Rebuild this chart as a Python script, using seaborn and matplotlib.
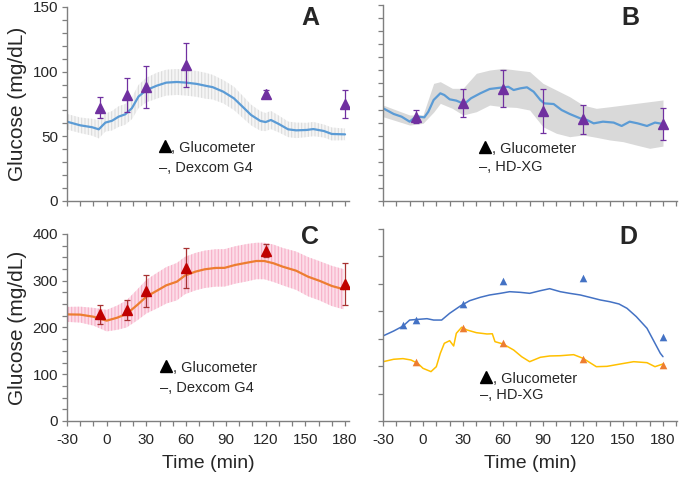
import numpy as np
import pandas as pd
import seaborn as sns
import matplotlib.pyplot as plt
from matplotlib.ticker import MultipleLocator

# Panel A: Dexcom G4 vs glucometer
A_t = [-30, -20, -11, -6, -1, 4, 9, 14, 19, 24, 30, 38, 45, 53, 60, 68, 75, 80, 88, 96,
       103, 109, 116, 120, 124, 130, 137, 143, 151, 156, 164, 170, 180]
A_cgm = [61.3, 58.5, 57, 55.4, 60.6, 62, 65.2, 67, 71.7, 80.7, 85.8, 89.2, 91.5, 92, 91.5,
         90.5, 89, 88, 84.5, 79.4, 72.5, 66.5, 61.9, 61, 62.6, 59.5, 55.4, 54.6, 54.9, 55.6,
         54.1, 51.8, 51.5]
A_sd = [6, 6, 6.5, 7, 7, 7.5, 8, 8, 8.5, 9, 9.5, 10, 10, 10, 10, 10, 10, 9.5, 9, 9,
        8.5, 8, 7.5, 7, 7, 6.5, 6, 6, 5.5, 5.5, 5, 5, 4.5]
A_meter_t = [-5, 15, 30, 60, 120, 180]
A_meter = [72, 82, 88, 105, 83, 75]
A_meter_err = [8, 13, 16, 17, 3, 10.5]

# Panel B: HD-XG vs glucometer
B_t = [-30, -22, -16, -10, -7, -3, 1, 4, 8, 13, 16, 20, 25, 31, 36, 43, 50, 58, 64, 68,
       73, 78, 83, 88, 91, 98, 104, 110, 118, 123, 128, 135, 143, 149, 155, 161, 168, 174, 180]
B_xg = [71, 66.6, 64.5, 60.7, 63.2, 64.5, 64, 68.3, 77.3, 82.4, 81.1, 77.8, 76.8, 74.2, 78.6,
        82.4, 85.7, 86.7, 87.4, 84.9, 86.2, 87, 83.6, 77.3, 74.7, 74.2, 69.6, 66.6, 63.2, 62,
        59.4, 60.7, 60, 57.4, 60.7, 59.4, 57.4, 60, 58.9]
B_band_t = [-30, -10, 0, 8, 13, 22, 30, 40, 50, 60, 70, 80, 90, 100, 110, 120, 130, 140,
            150, 160, 170, 180]
B_upper = [73.4, 65.8, 65.8, 90, 91.3, 86.2, 86.2, 97.7, 100.2, 101.5, 100.2, 99, 90, 84.9,
           79.8, 73.4, 70.9, 72.1, 73.4, 74.7, 76, 77.3]
B_lower = [64.5, 58.1, 59.4, 68, 74.7, 70.9, 65.8, 68.3, 73.4, 72.1, 71.6, 69.6, 56.8, 51.8,
           49.2, 50.5, 48.7, 46.7, 45.4, 42.8, 40.3, 42]
B_meter_t = [-5, 30, 60, 90, 120, 180]
B_meter = [64.5, 75, 86, 69, 62.5, 59]
B_meter_err = [5, 10.5, 14, 17, 11, 12]

# Panel C: Dexcom G4 vs glucometer (high range)
C_t = [-30, -20, -10, 0, 8, 15, 23, 30, 38, 45, 53, 59, 67, 74, 82, 89, 97, 106, 113, 119,
       126, 133, 143, 152, 161, 170, 179]
C_cgm = [228, 227.5, 223, 214.6, 221, 229, 248, 266, 278.8, 290.2, 298, 310.9, 319.4, 324.4,
         327.3, 327.5, 333.7, 338.6, 342.2, 342.2, 337.3, 330, 321.5, 308.7, 299.5, 288.8, 281.7]
C_sd = [16, 17, 19, 23, 26, 29, 33, 36, 38, 39, 40, 40, 40, 40, 40, 40, 40, 40, 39, 39,
        40, 40, 41, 42, 42, 43, 43]
C_meter_t = [-5, 15, 30, 60, 120, 180]
C_meter = [228, 238, 278, 327, 364, 292]
C_meter_err = [20, 21, 35, 42, 14, 45]

# Panel D: two individual HD-XG traces
D_t1 = [-30, -22, -15, -10, -5, 3, 8, 14, 20, 28, 35, 43, 50, 58, 65, 73, 80, 88, 95, 103,
        110, 118, 125, 133, 140, 147, 153, 160, 168, 174, 178, 180]
D_xg1 = [155, 164, 173, 184, 185, 186.5, 184, 184, 196.3, 209.6, 219.3, 225.5, 229.7, 232.7,
         235.7, 234.5, 232.7, 237.5, 241.2, 235.7, 232.7, 229.7, 225.5, 220.6, 217.5, 213.3,
         205.4, 190.2, 169, 141.6, 123.4, 117.2]
D_t2 = [-30, -22, -15, -9, -4, 0, 6, 10, 13, 16, 20, 23, 25, 29, 33, 40, 48, 52, 54, 60,
        68, 74, 80, 88, 95, 103, 113, 120, 130, 138, 148, 158, 168, 174, 180]
D_xg2 = [108, 112.5, 113.7, 111.2, 105.2, 96, 90, 99, 123.4, 141.6, 146.4, 136.7, 159.8, 170.8,
         165.9, 161, 158.6, 159, 144.6, 140.4, 129.4, 117.2, 108.1, 116.1, 118.5, 119, 120.9,
         114.3, 99, 99.6, 103.9, 108.1, 106.3, 99, 103.9]
D_meter1_t = [-15, -5, 30, 60, 120, 180]
D_meter1 = [175, 185, 213, 256, 261, 154]
D_meter2_t = [-5, 30, 60, 120, 180]
D_meter2 = [107, 169, 142, 113, 102]

sns.set_style('ticks')
plt.rcParams['font.family'] = ['Liberation Sans', 'DejaVu Sans']
plt.rcParams['axes.unicode_minus'] = False
plt.rcParams['hatch.linewidth'] = 0.8

fig = plt.figure(figsize=(6.85, 4.83), dpi=100)
axA = fig.add_axes([0.0978, 0.5839, 0.4117, 0.4017])
axB = fig.add_axes([0.5591, 0.5839, 0.4292, 0.4058])
axC = fig.add_axes([0.0978, 0.1284, 0.4117, 0.3872])
axD = fig.add_axes([0.5591, 0.1284, 0.4292, 0.3975])

purple = '#7030A0'
lightblue = '#5B9BD5'

# A
a = pd.DataFrame({'t': A_t, 'g': A_cgm, 'sd': A_sd})
axA.fill_between(a['t'], a['g'] - a['sd'], a['g'] + a['sd'], facecolor='#f5f5f5',
                 edgecolor='#dcdcdc', hatch='|||||', linewidth=0)
sns.lineplot(data=a, x='t', y='g', ax=axA, color=lightblue, lw=1.6)
axA.errorbar(A_meter_t, A_meter, yerr=A_meter_err, fmt='^', color=purple, ms=7,
             elinewidth=0.9, capsize=2, capthick=0.9, zorder=5)

# B
b = pd.DataFrame({'t': B_t, 'g': B_xg})
axB.fill_between(B_band_t, B_lower, B_upper, color='#d9d9d9', linewidth=0)
sns.lineplot(data=b, x='t', y='g', ax=axB, color=lightblue, lw=1.6)
axB.errorbar(B_meter_t, B_meter, yerr=B_meter_err, fmt='^', color=purple, ms=7,
             elinewidth=0.9, capsize=2, capthick=0.9, zorder=5)

# C
c = pd.DataFrame({'t': C_t, 'g': C_cgm, 'sd': C_sd})
axC.fill_between(c['t'], c['g'] - c['sd'], c['g'] + c['sd'], facecolor='#fcdde8',
                 edgecolor='#f7b0c8', hatch='|||||', linewidth=0)
sns.lineplot(data=c, x='t', y='g', ax=axC, color='#ED7D31', lw=1.6)
axC.errorbar(C_meter_t, C_meter, yerr=C_meter_err, fmt='^', color='#C00000', ms=7,
             elinewidth=0.9, capsize=2, capthick=0.9, zorder=5, ecolor='#a83232')

# D
sns.lineplot(x=D_t1, y=D_xg1, ax=axD, color='#4472C4', lw=1.1)
sns.lineplot(x=D_t2, y=D_xg2, ax=axD, color='#FFC000', lw=1.1)
sns.scatterplot(x=D_meter1_t, y=D_meter1, ax=axD, marker='^', color='#4472C4', s=30,
                linewidth=0, zorder=5)
sns.scatterplot(x=D_meter2_t, y=D_meter2, ax=axD, marker='^', color='#ED7D31', s=30,
                linewidth=0, zorder=5)

for ax in (axA, axB, axC, axD):
    sns.despine(ax=ax)
    for s in ('left', 'bottom'):
        ax.spines[s].set_color('#7f7f7f')
        ax.spines[s].set_linewidth(1.0)
    ax.tick_params(axis='both', which='both', direction='out', color='#7f7f7f',
                   length=3.5, width=0.9, labelsize=11, pad=3)
    ax.tick_params(axis='x', pad=5)
    ax.xaxis.set_major_locator(MultipleLocator(30))
    ax.xaxis.set_minor_locator(MultipleLocator(10))
    ax.set_xlabel('')
    ax.set_ylabel('')

axA.set_xlim(-30, 183)
axC.set_xlim(-30, 183)
axB.set_xlim(-30, 190.5)
axD.set_xlim(-30, 190.5)

for ax in (axA, axB):
    ax.set_ylim(0, 150)
    ax.yaxis.set_major_locator(MultipleLocator(50))
    ax.yaxis.set_minor_locator(MultipleLocator(10))
    ax.tick_params(axis='x', labelbottom=False)
axB.tick_params(axis='y', labelleft=False)

axC.set_ylim(0, 400)
axC.yaxis.set_major_locator(MultipleLocator(100))
axC.yaxis.set_minor_locator(MultipleLocator(25))
axD.set_ylim(0, 350)
axD.yaxis.set_major_locator(MultipleLocator(50))
axD.tick_params(axis='y', labelleft=False)

for ax in (axA, axC):
    ax.set_ylabel('Glucose (mg/dL)', fontsize=15, labelpad=4)
for ax in (axC, axD):
    ax.set_xlabel('Time (min)', fontsize=14, labelpad=6)

letters = [(axA, 'A', 0.862, 0.943), (axB, 'B', 0.84, 0.934),
           (axC, 'C', 0.862, 0.985), (axD, 'D', 0.833, 0.958)]
for ax, lab, x, y in letters:
    ax.text(x, y, lab, transform=ax.transAxes, fontsize=18, fontweight='bold',
            ha='center', va='center')

# hand-made legend: black triangle marker followed by text
legends = [(axA, 'Dexcom G4', 0.326, 0.273, 0.170),
           (axB, 'HD-XG', 0.327, 0.265, 0.173),
           (axC, 'Dexcom G4', 0.33, 0.283, 0.176),
           (axD, 'HD-XG', 0.33, 0.219, 0.135)]
for ax, name, x, y1, y2 in legends:
    w = ax.get_position().width * 685
    ax.plot([x + 6 / w], [y1 + 0.01], marker='^', color='black', ms=8,
            transform=ax.transAxes, clip_on=False)
    ax.text(x + 12.5 / w, y1, ', Glucometer', transform=ax.transAxes, fontsize=10.5,
            va='center', ha='left')
    ax.text(x, y2, '\u2013, ' + name, transform=ax.transAxes, fontsize=10.5,
            va='center', ha='left')

fig.savefig('out.png', dpi=100)
